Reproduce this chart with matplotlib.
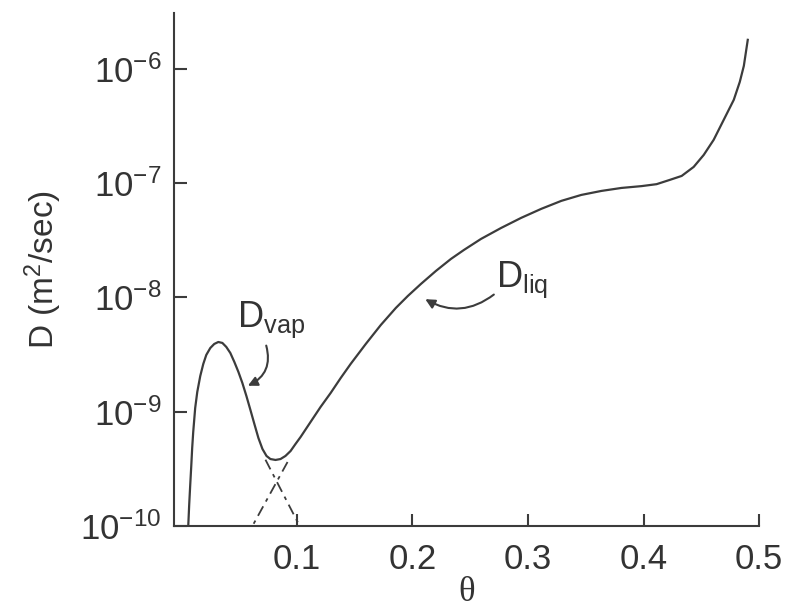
import numpy as np
import matplotlib
matplotlib.use("Agg")
import matplotlib.pyplot as plt

plt.rcParams['font.family'] = ['Liberation Sans', 'DejaVu Sans']
plt.rcParams['mathtext.fontset'] = 'custom'
plt.rcParams['mathtext.rm'] = 'Liberation Sans'
plt.rcParams['mathtext.it'] = 'Liberation Sans:italic'
plt.rcParams['mathtext.default'] = 'regular'

# curve: theta and log10(D)
theta = [0.0061, 0.0069, 0.0078, 0.0087, 0.0095, 0.0104, 0.0121, 0.0139,
         0.0165, 0.0191, 0.0217, 0.0252, 0.0286, 0.0321, 0.0356, 0.0390,
         0.0425, 0.0460, 0.0495, 0.0529, 0.0564, 0.0599, 0.0633, 0.0668,
         0.0703, 0.0738, 0.0772, 0.0816, 0.0859, 0.0902, 0.0946, 0.0989,
         0.1033, 0.1119, 0.1206, 0.1293, 0.1380, 0.1466, 0.1597, 0.1727,
         0.1857, 0.1961, 0.2074, 0.2204, 0.2334, 0.2447, 0.2594, 0.2768,
         0.2941, 0.3115, 0.3289, 0.3462, 0.3636, 0.3809, 0.3983, 0.4113,
         0.4226, 0.4330, 0.4434, 0.4521, 0.4607, 0.4694, 0.4781, 0.4833,
         0.4868, 0.4902]
logD = [-10.000, -9.816, -9.641, -9.475, -9.317, -9.177, -8.967, -8.827,
        -8.687, -8.582, -8.503, -8.442, -8.407, -8.390, -8.398, -8.433,
        -8.486, -8.565, -8.652, -8.748, -8.862, -8.985, -9.107, -9.230,
        -9.326, -9.387, -9.414, -9.422, -9.414, -9.387, -9.344, -9.282,
        -9.221, -9.090, -8.958, -8.836, -8.705, -8.582, -8.407, -8.241,
        -8.092, -7.987, -7.882, -7.768, -7.663, -7.584, -7.488, -7.392,
        -7.304, -7.225, -7.155, -7.103, -7.068, -7.042, -7.026, -7.009,
        -6.972, -6.937, -6.858, -6.753, -6.621, -6.446, -6.271, -6.114,
        -5.974, -5.746]

# dashed extrapolations of the two branches
vap_ext_theta = [0.0729, 0.1025]
vap_ext_logD = [-9.42, -10.0]
liq_ext_theta = [0.092, 0.0616]
liq_ext_logD = [-9.44, -10.0]

yticks = [1e-10, 1e-9, 1e-8, 1e-7, 1e-6]
ytick_labels = ['$10^{-10}$', '$10^{-9}$', '$10^{-8}$', '$10^{-7}$', '$10^{-6}$']
xticks = [0.1, 0.2, 0.3, 0.4, 0.5]
xtick_labels = ['0.1', '0.2', '0.3', '0.4', '0.5']

ink = '#3c3c3c'
txt = '#333333'

fig = plt.figure(figsize=(7.85, 6.12), dpi=100)
ax = fig.add_axes([0.222, 0.1405, 0.745, 0.8385])

ax.plot(theta, 10 ** np.array(logD), color=ink, lw=1.6)
ax.plot(vap_ext_theta, 10 ** np.array(vap_ext_logD), color=ink, lw=1.3,
        linestyle=(0, (6, 3, 2, 3)))
ax.plot(liq_ext_theta, 10 ** np.array(liq_ext_logD), color=ink, lw=1.3,
        linestyle=(0, (6, 3, 2, 3)))

ax.set_yscale('log')
ax.set_xlim(-0.006, 0.5)
ax.set_ylim(1e-10, 10 ** -5.51)
ax.set_yticks(yticks)
ax.set_yticklabels(ytick_labels)
ax.yaxis.set_minor_locator(matplotlib.ticker.NullLocator())
ax.set_xticks(xticks)
ax.set_xticklabels(xtick_labels)

for side in ['top', 'right']:
    ax.spines[side].set_visible(False)
for side in ['left', 'bottom']:
    ax.spines[side].set_color(ink)
    ax.spines[side].set_linewidth(1.5)

ax.tick_params(direction='in', length=9, width=1.5, color=ink,
               labelsize=25, labelcolor=txt)
ax.tick_params(axis='x', pad=12)
ax.tick_params(axis='y', pad=9)

ax.set_ylabel('D (m$^{2}$/sec)', fontsize=24, color=txt, labelpad=12)
ax.set_xlabel('θ', fontsize=25, color=txt, family='Liberation Serif',
              labelpad=0)

# labels with curved arrows
ax.text(0.0486, 10 ** -8.258, 'D$_{vap}$', fontsize=26, color=txt,
        va='baseline', ha='left')
ax.annotate('', xy=(0.0555, 10 ** -8.783), xytext=(0.0729, 10 ** -8.398),
            arrowprops=dict(arrowstyle='-|>', color=ink, lw=1.5,
                            mutation_scale=14,
                            connectionstyle='arc3,rad=-0.45'))
ax.text(0.2724, 10 ** -7.908, 'D$_{liq}$', fontsize=26, color=txt,
        va='baseline', ha='left')
ax.annotate('', xy=(0.2091, 10 ** -8.003), xytext=(0.2724, 10 ** -7.96),
            arrowprops=dict(arrowstyle='-|>', color=ink, lw=1.5,
                            mutation_scale=14,
                            connectionstyle='arc3,rad=-0.35'))

fig.savefig('out.png', dpi=100)
